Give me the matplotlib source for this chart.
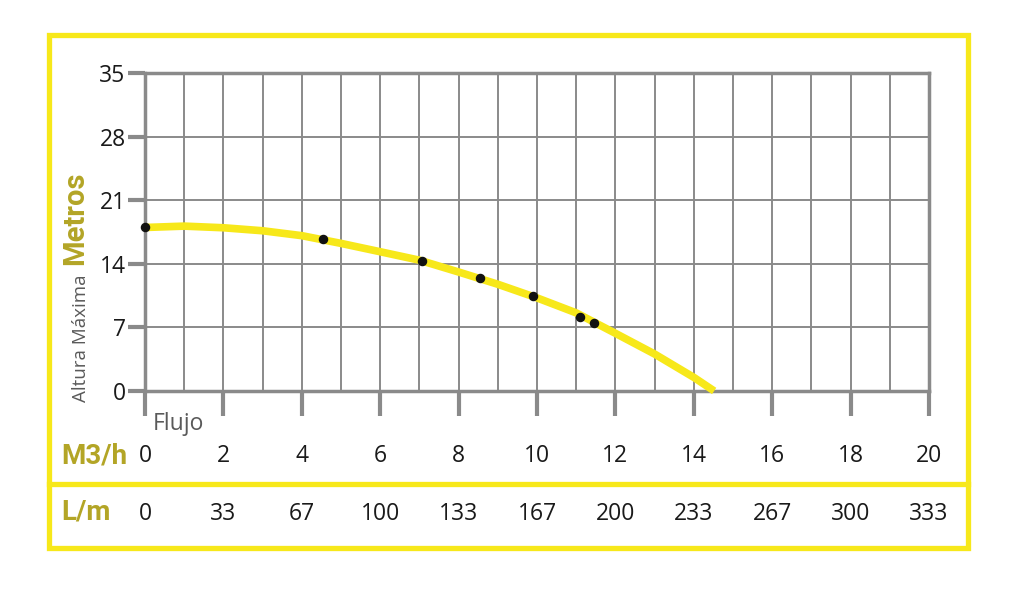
import matplotlib
matplotlib.use("Agg")
import matplotlib.pyplot as plt
from matplotlib.patches import Rectangle
from matplotlib.lines import Line2D
import matplotlib.transforms as mtransforms

# ---- data ----
curve_x = [0, 1, 2, 3, 4, 5, 6, 7, 8, 9, 10, 11, 12, 13, 14, 14.52]
curve_y = [18.0, 18.15, 17.97, 17.64, 17.1, 16.25, 15.33, 14.4, 13.1, 11.75, 10.25, 8.6, 6.35, 4.07, 1.5, 0.0]
point_x = [0, 4.53, 7.07, 8.55, 9.9, 11.1, 11.45]
point_y = [18.0, 16.7, 14.3, 12.4, 10.45, 8.15, 7.45]
m3h_ticks = [0, 2, 4, 6, 8, 10, 12, 14, 16, 18, 20]
lm_labels = ["0", "33", "67", "100", "133", "167", "200", "233", "267", "300", "333"]
y_ticks = [0, 7, 14, 21, 28, 35]

YELLOW = "#f7e81a"
OLIVE = "#b3a526"
GRID = "#8a8a8a"
TXT = "#1a1a1a"
GRAYTXT = "#5a5a5a"

plt.rcParams['font.family'] = ['Open Sans', 'DejaVu Sans']

fig = plt.figure(figsize=(10.24, 6.09), dpi=100)
fig.patch.set_facecolor("white")

# yellow frame
fig.patches.append(Rectangle((0.0479, 0.1002), 0.8970, 0.8423, transform=fig.transFigure,
                             fill=False, edgecolor=YELLOW, linewidth=3.8, zorder=0))
fig.lines.append(Line2D([0.0479, 0.9449], [0.2053, 0.2053], transform=fig.transFigure,
                        color=YELLOW, linewidth=3.8))

ax = fig.add_axes([0.1416, 0.358, 0.7656, 0.522])
ax.set_xlim(0, 20)
ax.set_ylim(0, 35)

ax.set_xticks(range(0, 21), minor=True)
ax.set_xticks(m3h_ticks)
ax.set_xticklabels([str(v) for v in m3h_ticks], fontsize=16.5, color=TXT)
ax.set_yticks(y_ticks)
ax.set_yticklabels([str(v) for v in y_ticks], fontsize=16.5, color=TXT)

ax.grid(True, which="both", axis="x", color=GRID, linewidth=1.4)
ax.grid(True, which="major", axis="y", color=GRID, linewidth=1.4)
ax.set_axisbelow(True)

ax.tick_params(axis="x", which="major", direction="out", length=18, width=3,
               color=GRID, pad=20)
ax.tick_params(axis="x", which="minor", length=0)
ax.tick_params(axis="y", which="major", direction="out", length=12, width=3,
               color=GRID, pad=2)

for s in ax.spines.values():
    s.set_color(GRID)
    s.set_linewidth(2.5)

ax.plot(curve_x, curve_y, color=YELLOW, linewidth=5.5, solid_capstyle="butt",
        solid_joinstyle="round", zorder=3, clip_on=False)
ax.scatter(point_x, point_y, s=34, color="#111111", zorder=4, clip_on=False)

# L/m row labels
trans = mtransforms.blended_transform_factory(ax.transData, fig.transFigure)
for xv, lab in zip(m3h_ticks, lm_labels):
    ax.text(xv, 0.156, lab, transform=trans, ha="center", va="center",
            fontsize=16.5, color=TXT)

# unit labels
bold_fam = ['Roboto', 'DejaVu Sans']
fig.text(0.0918, 0.251, "M3/h", fontsize=20, fontweight="bold", color=OLIVE,
         ha="center", va="center", family=bold_fam)
fig.text(0.0840, 0.159, "L/m", fontsize=20, fontweight="bold", color=OLIVE,
         ha="center", va="center", family=bold_fam)
fig.text(0.0735, 0.642, "Metros", fontsize=21, fontweight="bold", color=OLIVE,
         ha="center", va="center", rotation=90, family=bold_fam)
fig.text(0.0790, 0.445, "Altura Máxima", fontsize=13.5, color=GRAYTXT,
         ha="center", va="center", rotation=90)
fig.text(0.1494, 0.304, "Flujo", fontsize=16.5, color=GRAYTXT, ha="left", va="center")

fig.savefig("out.png", dpi=100, facecolor="white")
